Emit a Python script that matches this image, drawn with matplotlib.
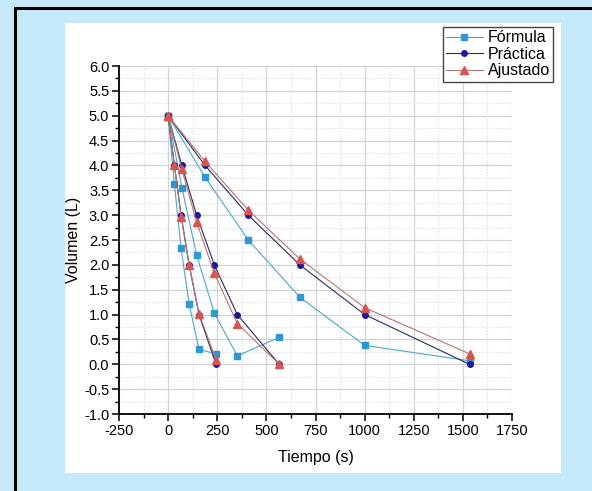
import matplotlib.pyplot as plt
import matplotlib.patches as mpatches
from matplotlib.ticker import MultipleLocator

plt.rcParams['font.family'] = ['Liberation Sans', 'DejaVu Sans']
plt.rcParams['axes.unicode_minus'] = False

# three runs (fast, medium, slow), time in s
t_run1 = [0, 32, 66, 107, 157, 244]
t_run2 = [0, 70, 145, 235, 352, 565]
t_run3 = [0, 188, 408, 670, 1000, 1534]

# Formula (predicted volume)
formula_run1 = [5.0, 3.62, 2.33, 1.21, 0.30, 0.21]
formula_run2 = [5.0, 3.55, 2.20, 1.03, 0.17, 0.54]
formula_run3 = [5.0, 3.76, 2.50, 1.35, 0.38, 0.07]

# Practica (measured volume)
practica_run1 = [5.0, 4.0, 3.0, 2.0, 1.0, 0.0]
practica_run2 = [5.0, 4.0, 3.0, 2.0, 1.0, 0.0]
practica_run3 = [5.0, 4.0, 3.0, 2.0, 1.0, 0.0]

# Ajustado (fitted volume)
ajustado_run1 = [5.0, 4.0, 2.97, 2.0, 1.02, 0.09]
ajustado_run2 = [5.0, 3.92, 2.86, 1.83, 0.82, 0.0]
ajustado_run3 = [5.0, 4.08, 3.10, 2.12, 1.14, 0.21]

times = [t_run1, t_run2, t_run3]
series = [
    ('Fórmula', [formula_run1, formula_run2, formula_run3], '#4aa8c4', '#2f97d3', 's', 4),
    ('Práctica', [practica_run1, practica_run2, practica_run3], '#2b2b60', '#1c1a9c', 'o', 4),
    ('Ajustado', [ajustado_run1, ajustado_run2, ajustado_run3], '#b27676', '#d9534f', '^', 5.5),
]

fig = plt.figure(figsize=(5.92, 4.91), dpi=100)
fig.patch.set_facecolor('#c6e8fb')

# black frame and white panel behind the chart
fig.patches.append(mpatches.Rectangle((15 / 592, -0.1), 1.0, 1 - 8 / 491 + 0.1,
                                      transform=fig.transFigure, fill=False,
                                      edgecolor='black', linewidth=2.2, zorder=-2))
fig.patches.append(mpatches.Rectangle((65 / 592, 1 - 473 / 491), (561 - 65) / 592, (473 - 23) / 491,
                                      transform=fig.transFigure, facecolor='white',
                                      edgecolor='none', zorder=-1))

ax = fig.add_axes([119 / 592, 1 - 414 / 491, (512 - 119) / 592, (414 - 66) / 491])
ax.set_zorder(1)
ax.set_facecolor('none')

for name, runs, lcolor, mcolor, marker, ms in series:
    for i, (t, v) in enumerate(zip(times, runs)):
        ax.plot(t, v, color=lcolor, linewidth=0.8, marker=marker, markersize=ms,
                markerfacecolor=mcolor, markeredgecolor=mcolor,
                label=name if i == 0 else None, zorder=3)

ax.set_xlim(-250, 1750)
ax.set_ylim(-1.0, 6.0)
ax.xaxis.set_major_locator(MultipleLocator(250))
ax.xaxis.set_minor_locator(MultipleLocator(125))
ax.yaxis.set_major_locator(MultipleLocator(0.5))
ax.yaxis.set_minor_locator(MultipleLocator(0.25))
ax.yaxis.set_major_formatter(plt.FormatStrFormatter('%.1f'))

ax.grid(True, which='major', color='#d4d4d4', linewidth=0.9, linestyle='-')
ax.grid(True, which='minor', color='#d8d8d8', linewidth=0.8, linestyle=':')
ax.set_axisbelow(True)

for side in ['top', 'right']:
    ax.spines[side].set_visible(False)
for side in ['left', 'bottom']:
    ax.spines[side].set_linewidth(1.3)

ax.tick_params(which='major', direction='out', length=5, width=1.1, labelsize=10.5, pad=2)
ax.tick_params(which='minor', direction='out', length=3, width=1.0)

ax.set_xlabel('Tiempo (s)', fontsize=11.5, labelpad=9)
ax.set_ylabel('Volumen (L)', fontsize=11.5, labelpad=2)

ax.legend(loc='upper right', bbox_to_anchor=(553 / 592, 1 - 27 / 491),
          bbox_transform=fig.transFigure, fontsize=11.5, frameon=True,
          fancybox=False, edgecolor='#444444', framealpha=1, handlelength=2.3,
          handletextpad=0.3, labelspacing=0.1, borderpad=0.2, borderaxespad=0)

fig.savefig('out.png', dpi=100, facecolor=fig.get_facecolor())
